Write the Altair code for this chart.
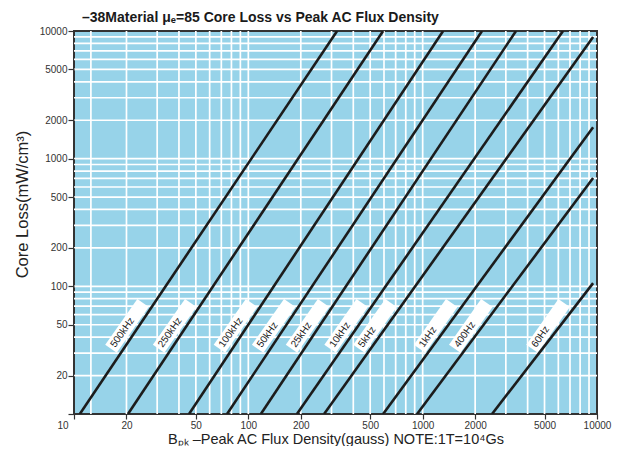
import math
import altair as alt
import pandas as pd

# ---- data ----
series = ["500kHz", "250kHz", "100kHz", "50kHz", "25kHz", "10kHz", "5kHz", "1kHz", "400Hz", "60Hz"]
b_start = [10.8, 20.4, 45.7, 75.5, 118, 190, 272, 593, 929, 2500]
loss_start = [10, 10, 10, 10, 10, 10, 10, 10, 10, 10]
b_end = [323, 593, 1310, 2190, 3430, 6380, 9500, 9500, 9500, 9500]
loss_end = [10000, 10000, 10000, 10000, 10000, 10000, 8980, 1760, 706, 106]

x_ticks = [10, 20, 50, 100, 200, 500, 1000, 2000, 5000, 10000]
y_ticks = [10, 20, 50, 100, 200, 500, 1000, 2000, 5000, 10000]
x_grid = [12.5, 20, 30, 40, 50, 60, 70, 80, 90,
          100, 200, 300, 400, 500, 600, 700, 800, 900,
          1000, 2000, 3000, 4000, 5000, 6000, 7000, 8000, 9000]
y_grid = [20, 30, 40, 50, 60, 70, 80, 90,
          100, 200, 300, 400, 500, 600, 700, 800, 900,
          1000, 2000, 3000, 4000, 5000, 6000, 7000, 8000, 9000]
label_loss = 49  # core-loss level at which the labels sit

# ---- tables ----
rows = []
for s, b0, l0, b1, l1 in zip(series, b_start, loss_start, b_end, loss_end):
    rows.append({"series": s, "B": b0, "L": l0, "o": 0})
    rows.append({"series": s, "B": b1, "L": l1, "o": 1})
lines_df = pd.DataFrame(rows)

lab_rows = []
for s, b0, l0, b1, l1 in zip(series, b_start, loss_start, b_end, loss_end):
    t = (math.log10(label_loss) - math.log10(l0)) / (math.log10(l1) - math.log10(l0))
    lb = 10 ** (math.log10(b0) + t * (math.log10(b1) - math.log10(b0)))
    lab_rows.append({"series": s, "B": lb, "L": label_loss})
labels_df = pd.DataFrame(lab_rows)

gx_df = pd.DataFrame({"B": x_grid})
gy_df = pd.DataFrame({"L": y_grid})

FONT = "Liberation Sans"
xs = alt.Scale(type="log", domain=[10, 10000], nice=False)
ys = alt.Scale(type="log", domain=[10, 10000], nice=False)

xaxis = alt.Axis(
    values=x_ticks, format="d", grid=False, domain=False,
    tickSize=5, tickColor="#333333", tickWidth=1.2,
    labelFont=FONT, labelFontSize=10, labelColor="#333333", labelPadding=1,
    labelFlush=False,
    labelAlign={"expr": "datum.value == 10 ? 'right' : 'center'"},
    labelOffset={"expr": "datum.value == 10 ? -6 : 0"},
    title="Bₚₖ  –Peak AC Flux Density(gauss)  NOTE:1T=10⁴Gs",
    titleFont=FONT, titleFontSize=14.5, titleFontWeight="normal", titleColor="#222222",
    titleY=29, titleBaseline="alphabetic", zindex=1,
)
yaxis = alt.Axis(
    values=y_ticks, format="d", grid=False, domain=False,
    labelExpr="datum.value == 10 ? '' : datum.label",
    tickSize=6, tickColor="#333333", tickWidth=1.2,
    labelFont=FONT, labelFontSize=10, labelColor="#333333", labelPadding=1,
    title="Core Loss(mW/cm³)",
    titleFont=FONT, titleFontSize=16.5, titleFontWeight="normal", titleColor="#222222",
    titleX=-52, titleY=173, titleAngle=270, titleAlign="center", titleBaseline="middle",
    zindex=1,
)

X = alt.X("B:Q", scale=xs, axis=xaxis)
Y = alt.Y("L:Q", scale=ys, axis=yaxis)

grid_v = alt.Chart(gx_df).mark_rule(color="white", strokeWidth=1.7).encode(x=X)
grid_h = alt.Chart(gy_df).mark_rule(color="white", strokeWidth=1.7).encode(y=Y)

box_path = "M-1,-0.25L1,-0.25L1,0.25L-1,0.25Z"
boxes = alt.Chart(labels_df).mark_point(
    shape=box_path, size=3136, angle=305, filled=True, color="white",
    opacity=1, strokeWidth=0, xOffset=-12,
).encode(x=X, y=Y)

texts = alt.Chart(labels_df).mark_text(
    angle=305, align="left", baseline="middle", dx=-25, xOffset=-12,
    font=FONT, fontSize=10, color="#222222",
).encode(x=X, y=Y, text="series:N")

lines = alt.Chart(lines_df).mark_line(color="#1c1c1c", strokeWidth=2.6, clip=True).encode(
    x=X, y=Y, detail="series:N", order="o:Q"
)

chart = alt.layer(grid_v, grid_h, boxes, texts, lines).properties(
    width=523, height=383,
    autosize=alt.AutoSizeParams(type="none"),
    padding={"left": 66, "top": 23, "right": 18, "bottom": 32},
    background="white",
    title=alt.TitleParams(
        text="–38Material  μₑ=85 Core Loss vs Peak AC Flux Density",
        anchor="start", frame="group", dx=8, offset=1, fontSize=14, fontWeight="bold",
        font=FONT, color="#1a1a1a",
    ),
).configure_view(
    fill="#97D3E9", stroke="#333333", strokeWidth=2
)

chart.save("out.html", embed_options={"renderer": "svg", "actions": False})
